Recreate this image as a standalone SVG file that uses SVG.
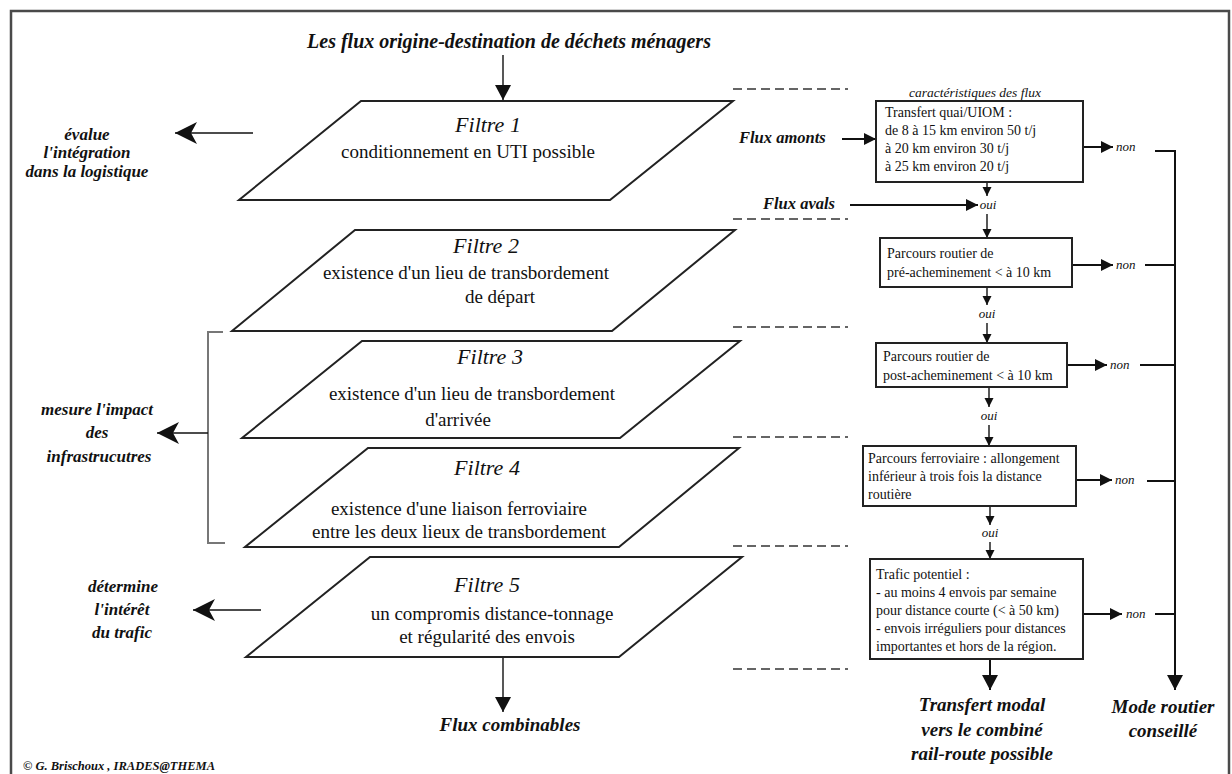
<svg xmlns="http://www.w3.org/2000/svg" width="1232" height="774" viewBox="0 0 1232 774">
<style>
text{font-family:"Liberation Serif","Times New Roman",serif;fill:#111}
.bi{font-weight:bold;font-style:italic}
.ttl{font-size:20px;text-anchor:middle}
.lbl{font-size:17px;text-anchor:middle}
.bot{font-size:19px;text-anchor:middle}
.fh{font-style:italic;font-size:22px;text-anchor:middle}
.fb{font-size:19px;text-anchor:middle}
.bx{font-size:14px}
.cap{font-style:italic;font-size:13.5px;text-anchor:middle}
.yn{font-style:italic;font-size:13px}
.flx{font-size:16.5px}
.copy{font-size:12.5px}
.shape{fill:#fff;stroke:#222;stroke-width:2}
.box{fill:#fff;stroke:#222;stroke-width:2}
.ln{stroke:#111;stroke-width:1.4;fill:none}
.lnb{stroke:#111;stroke-width:2;fill:none}
.dash{stroke:#333;stroke-width:1.6;fill:none;stroke-dasharray:9 5}
.brk{stroke:#777;stroke-width:2;fill:none}
</style>
<defs>
<marker id="ahS" markerUnits="userSpaceOnUse" markerWidth="10" markerHeight="10" refX="9" refY="5" orient="auto"><path d="M0,0.5 L9,5 L0,9.5 z" fill="#111"/></marker>
<marker id="ahN" markerUnits="userSpaceOnUse" markerWidth="13" markerHeight="12" refX="12" refY="6" orient="auto"><path d="M0,0 L12,6 L0,12 z" fill="#111"/></marker>
<marker id="ahB" markerUnits="userSpaceOnUse" markerWidth="16" markerHeight="18" refX="15" refY="9" orient="auto"><path d="M0,1 L15,9 L0,17 z" fill="#111"/></marker>
<marker id="ahL" markerUnits="userSpaceOnUse" markerWidth="24" markerHeight="22" refX="22" refY="11" orient="auto"><path d="M0,0 L22,11 L0,22 L6,11 z" fill="#111"/></marker>
</defs>
<rect x="0" y="0" width="1232" height="774" fill="#fff"/>
<rect id="frame" x="11" y="11" width="1218" height="790" fill="none" stroke="#4a4a4a" stroke-width="2.5"/>

<g id="connectors">
<line class="ln" x1="503" y1="55" x2="503" y2="100" marker-end="url(#ahB)"/>
<line class="ln" x1="253" y1="133" x2="175" y2="133" marker-end="url(#ahL)"/>
<polyline class="brk" points="223,332 208,332 208,543 225,543"/>
<line class="ln" x1="208" y1="433" x2="157" y2="433" marker-end="url(#ahL)"/>
<line class="ln" x1="261" y1="610" x2="193" y2="610" marker-end="url(#ahL)"/>
<line class="ln" x1="503" y1="657" x2="503" y2="712" marker-end="url(#ahB)"/>
<line class="dash" x1="733" y1="89" x2="848" y2="89"/>
<line class="dash" x1="733" y1="219" x2="848" y2="219"/>
<line class="dash" x1="733" y1="327" x2="848" y2="327"/>
<line class="dash" x1="733" y1="437" x2="848" y2="437"/>
<line class="dash" x1="733" y1="546" x2="848" y2="546"/>
<line class="dash" x1="733" y1="669" x2="848" y2="669"/>
<line class="lnb" x1="842" y1="139" x2="876" y2="139" marker-end="url(#ahN)"/>
<line class="lnb" x1="850" y1="205" x2="978" y2="205" marker-end="url(#ahN)"/>
<line class="ln" x1="987" y1="182" x2="987" y2="196" marker-end="url(#ahS)"/>
<line class="ln" x1="987" y1="214" x2="987" y2="238" marker-end="url(#ahS)"/>
<line class="ln" x1="987" y1="287" x2="987" y2="305" marker-end="url(#ahS)"/>
<line class="ln" x1="987" y1="323" x2="987" y2="343" marker-end="url(#ahS)"/>
<line class="ln" x1="989" y1="387" x2="989" y2="407" marker-end="url(#ahS)"/>
<line class="ln" x1="989" y1="425" x2="989" y2="446" marker-end="url(#ahS)"/>
<line class="ln" x1="990" y1="506" x2="990" y2="525" marker-end="url(#ahS)"/>
<line class="ln" x1="990" y1="542" x2="990" y2="559" marker-end="url(#ahS)"/>
<line class="lnb" x1="990" y1="659" x2="990" y2="690" marker-end="url(#ahB)"/>
<line class="lnb" x1="1083" y1="147" x2="1113" y2="147" marker-end="url(#ahN)"/>
<line class="lnb" x1="1072" y1="265" x2="1113" y2="265" marker-end="url(#ahN)"/>
<line class="lnb" x1="1067" y1="365" x2="1107" y2="365" marker-end="url(#ahN)"/>
<line class="lnb" x1="1076" y1="480" x2="1112" y2="480" marker-end="url(#ahN)"/>
<line class="lnb" x1="1083" y1="614" x2="1122" y2="614" marker-end="url(#ahN)"/>
<polyline class="lnb" points="1155,151 1175,151 1175,690" marker-end="url(#ahB)"/>
<line class="lnb" x1="1145" y1="265" x2="1175" y2="265"/>
<line class="lnb" x1="1140" y1="365" x2="1175" y2="365"/>
<line class="lnb" x1="1147" y1="481" x2="1175" y2="481"/>
<line class="lnb" x1="1155" y1="614" x2="1175" y2="614"/>
</g>

<g id="title"><text class="bi ttl" x="509" y="48">Les flux origine-destination de déchets ménagers</text></g>

<g id="lbl-evalue">
<text class="bi lbl" x="87" y="140" font-size="16">évalue</text>
<text class="bi lbl" x="87" y="158" font-size="16">l'intégration</text>
<text class="bi lbl" x="87" y="177" font-size="15">dans la logistique</text>
</g>
<g id="lbl-mesure">
<text class="bi lbl" x="97" y="415" font-size="19">mesure l'impact</text>
<text class="bi lbl" x="97" y="438" font-size="19">des</text>
<text class="bi lbl" x="99" y="462" font-size="19">infrastrucutres</text>
</g>
<g id="lbl-determine">
<text class="bi lbl" x="123" y="592" font-size="18.5">détermine</text>
<text class="bi lbl" x="122" y="615" font-size="18.5">l'intérêt</text>
<text class="bi lbl" x="122" y="638" font-size="17">du trafic</text>
</g>

<g id="filtre1">
<polygon class="shape" points="361,101 733,101 610,200 239,200"/>
<text class="fh" x="488" y="132">Filtre 1</text>
<text class="fb" x="468" y="158">conditionnement en UTI possible</text>
</g>
<g id="filtre2">
<polygon class="shape" points="355,230 735,230 612,331 232,331"/>
<text class="fh" x="486" y="253">Filtre 2</text>
<text class="fb" x="466" y="279">existence d'un lieu de transbordement</text>
<text class="fb" x="500" y="303">de départ</text>
</g>
<g id="filtre3">
<polygon class="shape" points="362,341 740,341 620,438 242,438"/>
<text class="fh" x="490" y="364">Filtre 3</text>
<text class="fb" x="472" y="400">existence d'un lieu de transbordement</text>
<text class="fb" x="458" y="426">d'arrivée</text>
</g>
<g id="filtre4">
<polygon class="shape" points="368,448 739,448 619,547 245,547"/>
<text class="fh" x="487" y="475">Filtre 4</text>
<text class="fb" x="459" y="515">existence d'une liaison ferroviaire</text>
<text class="fb" x="459" y="538">entre les deux lieux de transbordement</text>
</g>
<g id="filtre5">
<polygon class="shape" points="370,557 742,557 619,657 246,657"/>
<text class="fh" x="487" y="592">Filtre 5</text>
<text class="fb" x="492" y="620">un compromis distance-tonnage</text>
<text class="fb" x="487" y="643">et régularité des envois</text>
</g>
<g id="flux-combinables"><text class="bi bot" x="510" y="731">Flux  combinables</text></g>

<g id="caracteristiques"><text class="cap" x="975" y="97">caractéristiques des flux</text></g>
<g id="flux-amonts"><text class="bi flx" x="739" y="143">Flux amonts</text></g>
<g id="flux-avals"><text class="bi flx" x="763" y="209">Flux avals</text></g>

<g id="box1">
<rect class="box" x="876" y="101" width="207" height="81"/>
<text class="bx" x="885" y="117">Transfert quai/UIOM :</text>
<text class="bx" x="885" y="135">de 8 à 15 km environ 50 t/j</text>
<text class="bx" x="885" y="153">à 20 km environ 30 t/j</text>
<text class="bx" x="885" y="171">à 25 km environ 20 t/j</text>
</g>
<g id="box2">
<rect class="box" x="880" y="238" width="192" height="49"/>
<text class="bx" x="887" y="258">Parcours routier de</text>
<text class="bx" x="887" y="277">pré-acheminement  &lt; à 10 km</text>
</g>
<g id="box3">
<rect class="box" x="876" y="343" width="191" height="44"/>
<text class="bx" x="883" y="361">Parcours routier de</text>
<text class="bx" x="883" y="380">post-acheminement &lt; à 10 km</text>
</g>
<g id="box4">
<rect class="box" x="863" y="446" width="213" height="60"/>
<text class="bx" x="868" y="463">Parcours ferroviaire : allongement</text>
<text class="bx" x="868" y="481">inférieur à trois fois la distance</text>
<text class="bx" x="868" y="499">routière</text>
</g>
<g id="box5">
<rect class="box" x="870" y="559" width="213" height="100"/>
<text class="bx" x="876" y="579">Trafic potentiel :</text>
<text class="bx" x="876" y="597">- au moins 4 envois par semaine</text>
<text class="bx" x="876" y="615">pour distance courte (&lt; à 50 km)</text>
<text class="bx" x="876" y="633">- envois irréguliers pour distances</text>
<text class="bx" x="876" y="651">importantes et hors de la région.</text>
</g>

<g id="oui-labels">
<text class="yn" x="988" y="209" text-anchor="middle">oui</text>
<text class="yn" x="987" y="318" text-anchor="middle">oui</text>
<text class="yn" x="989" y="420" text-anchor="middle">oui</text>
<text class="yn" x="990" y="537" text-anchor="middle">oui</text>
</g>
<g id="non-labels">
<text class="yn" x="1116" y="151">non</text>
<text class="yn" x="1116" y="269">non</text>
<text class="yn" x="1110" y="369">non</text>
<text class="yn" x="1115" y="484">non</text>
<text class="yn" x="1126" y="618" font-style="normal">non</text>
</g>

<g id="transfert-modal">
<text class="bi bot" x="982" y="711">Transfert modal</text>
<text class="bi bot" x="982" y="736">vers le combiné</text>
<text class="bi bot" x="982" y="760">rail-route possible</text>
</g>
<g id="mode-routier">
<text class="bi bot" x="1163" y="713">Mode routier</text>
<text class="bi bot" x="1163" y="737">conseillé</text>
</g>
<g id="copyright"><text class="bi copy" x="23" y="770">© G. Brischoux , IRADES@THEMA</text></g>
</svg>
